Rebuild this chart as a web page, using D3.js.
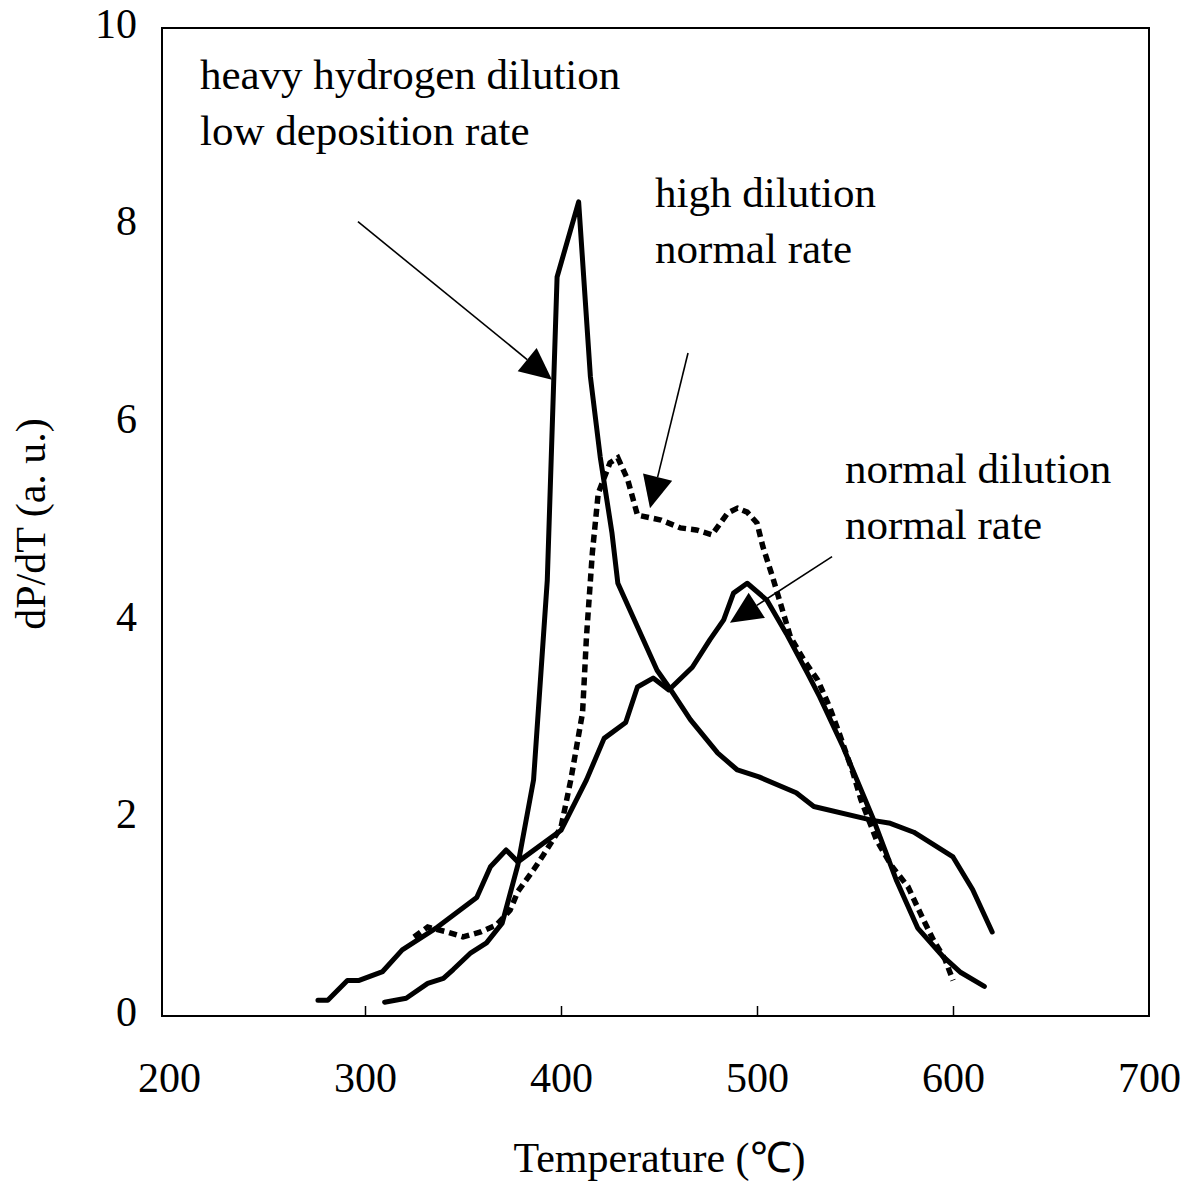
<!DOCTYPE html>
<html>
<head>
<meta charset="utf-8">
<script src="https://d3js.org/d3.v7.min.js"></script>
<style>
  body { margin: 0; background: #fff; }
  text { font-family: "Liberation Serif", "Times New Roman", serif; fill: #000; }
</style>
</head>
<body>
<div id="chart"></div>
<script>
// heavy hydrogen dilution, low deposition rate (sharp peak)
const tempHeavy = [310, 321, 332, 340, 345, 354, 362, 370, 378, 386, 393, 398, 409, 415, 420, 426, 429, 439, 449, 455, 466, 480, 490, 501, 520, 529, 559, 568, 580, 600, 610, 620];
const valHeavy  = [0.14, 0.18, 0.33, 0.38, 0.47, 0.64, 0.74, 0.94, 1.53, 2.39, 4.41, 7.48, 8.24, 6.47, 5.66, 4.89, 4.38, 3.94, 3.50, 3.33, 3.00, 2.66, 2.49, 2.42, 2.26, 2.12, 1.98, 1.95, 1.86, 1.61, 1.28, 0.85];

// high dilution, normal rate (dashed)
const tempHigh = [325, 332, 342, 350, 359, 367, 374, 378, 386, 391, 400, 405, 411, 413, 416, 419, 425, 429, 434, 439, 451, 461, 469, 477, 485, 490, 495, 500, 503, 508, 517, 524, 531, 537, 542, 549, 553, 561, 569, 577, 585, 590, 596, 600];
const valHigh  = [0.80, 0.90, 0.85, 0.80, 0.85, 0.92, 1.07, 1.26, 1.48, 1.63, 1.91, 2.39, 3.07, 3.84, 4.69, 5.29, 5.60, 5.65, 5.43, 5.07, 5.02, 4.94, 4.92, 4.87, 5.09, 5.14, 5.10, 4.99, 4.75, 4.44, 3.84, 3.60, 3.40, 3.13, 2.86, 2.46, 2.19, 1.78, 1.51, 1.31, 0.97, 0.77, 0.57, 0.36];

// normal dilution, normal rate
const tempNormal = [276, 281, 291, 297, 309, 319, 337, 357, 364, 372, 378, 400, 413, 422, 433, 439, 447, 455, 467, 476, 483, 488, 495, 505, 515, 526, 532, 544, 559, 571, 582, 595, 604, 616];
const valNormal  = [0.16, 0.16, 0.36, 0.36, 0.45, 0.67, 0.90, 1.20, 1.51, 1.68, 1.56, 1.88, 2.39, 2.81, 2.97, 3.33, 3.42, 3.30, 3.53, 3.81, 4.01, 4.28, 4.38, 4.21, 3.87, 3.46, 3.23, 2.72, 2.01, 1.38, 0.89, 0.60, 0.44, 0.30];

const xTicks = [200, 300, 400, 500, 600, 700];
const yTicks = [0, 2, 4, 6, 8, 10];

// annotation text (data coords of first baseline) and arrows (start -> tip)
const noteLines = [
  ["heavy hydrogen dilution", "low deposition rate"],
  ["high dilution", "normal rate"],
  ["normal dilution", "normal rate"]
];
const noteAt = [[215.8, 9.38], [448, 8.19], [544.9, 5.39]];
const arrowFrom = [[296.4, 8.04], [464.8, 6.71], [538.3, 4.65]];
const arrowTo   = [[395.4, 6.44], [445.4, 5.14], [486.2, 3.98]];

function draw() {
  var W = 1191, H = 1186;
  var m = { left: 162, top: 28, bottom: 1016, right: 1149 };

  var svg = d3.select("#chart").append("svg")
    .attr("width", W)
    .attr("height", H);

  var x = d3.scaleLinear().domain([200, 700]).range([169, m.right]);
  var y = d3.scaleLinear().domain([0, 10]).range([m.bottom, m.top]);

  // frame
  svg.append("rect")
    .attr("x", m.left).attr("y", m.top)
    .attr("width", m.right - m.left).attr("height", m.bottom - m.top)
    .attr("fill", "none").attr("stroke", "#000").attr("stroke-width", 2);

  // x axis
  var gx = svg.append("g")
    .attr("transform", "translate(0," + m.bottom + ")")
    .call(d3.axisBottom(x).tickValues(xTicks).tickSizeInner(-10).tickSizeOuter(0).tickPadding(46));
  gx.select(".domain").remove();
  gx.selectAll(".tick line").attr("stroke-width", 1.5)
    .filter(function (d) { return d == 200 || d == 700; }).remove();
  gx.selectAll("text").style("font-size", "42px").attr("font-family", null);

  // y axis
  var gy = svg.append("g")
    .attr("transform", "translate(" + m.left + ",0)")
    .call(d3.axisLeft(y).tickValues(yTicks).tickSize(0).tickPadding(25));
  gy.select(".domain").remove();
  gy.selectAll("text").style("font-size", "42px").attr("dy", "0.22em").attr("font-family", null);

  // axis titles
  svg.append("text")
    .attr("x", (m.left + m.right) / 2 + 4)
    .attr("y", 1172)
    .attr("text-anchor", "middle")
    .style("font-size", "42px")
    .text("Temperature (\u2103)");

  svg.append("text")
    .attr("transform", "translate(45,524) rotate(-90)")
    .attr("text-anchor", "middle")
    .style("font-size", "42px")
    .text("dP/dT (a. u.)");

  // curves
  var line = d3.line()
    .x(function (d) { return x(d[0]); })
    .y(function (d) { return y(d[1]); });

  function pairs(t, v) { return t.map(function (d, i) { return [d, v[i]]; }); }

  svg.append("path")
    .datum(pairs(tempNormal, valNormal))
    .attr("fill", "none").attr("stroke", "#000").attr("stroke-width", 5)
    .attr("stroke-linejoin", "round").attr("stroke-linecap", "round")
    .attr("d", line);

  svg.append("path")
    .datum(pairs(tempHigh, valHigh))
    .attr("fill", "none").attr("stroke", "#000").attr("stroke-width", 5.5)
    .attr("stroke-dasharray", "8,5")
    .attr("d", line);

  svg.append("path")
    .datum(pairs(tempHeavy, valHeavy))
    .attr("fill", "none").attr("stroke", "#000").attr("stroke-width", 5)
    .attr("stroke-linejoin", "round").attr("stroke-linecap", "round")
    .attr("d", line);

  // annotations
  noteLines.forEach(function (lines, i) {
    var t = svg.append("text")
      .attr("x", x(noteAt[i][0]))
      .attr("y", y(noteAt[i][1]))
      .style("font-size", "43px");
    lines.forEach(function (s, j) {
      t.append("tspan")
        .attr("x", x(noteAt[i][0]))
        .attr("dy", j == 0 ? 0 : 56)
        .text(s);
    });
  });

  arrowFrom.forEach(function (a, i) {
    var x1 = x(a[0]), y1 = y(a[1]);
    var x2 = x(arrowTo[i][0]), y2 = y(arrowTo[i][1]);
    var ang = Math.atan2(y2 - y1, x2 - x1);
    var len = 32, hw = 15;
    var bx = x2 - len * Math.cos(ang), by = y2 - len * Math.sin(ang);
    svg.append("line")
      .attr("x1", x1).attr("y1", y1)
      .attr("x2", bx).attr("y2", by)
      .attr("stroke", "#000").attr("stroke-width", 1.6);
    var p1 = [bx + hw * Math.sin(ang), by - hw * Math.cos(ang)];
    var p2 = [bx - hw * Math.sin(ang), by + hw * Math.cos(ang)];
    svg.append("path")
      .attr("d", "M" + x2 + "," + y2 + "L" + p1[0] + "," + p1[1] + "L" + p2[0] + "," + p2[1] + "Z")
      .attr("fill", "#000");
  });
}

draw();
</script>
</body>
</html>
